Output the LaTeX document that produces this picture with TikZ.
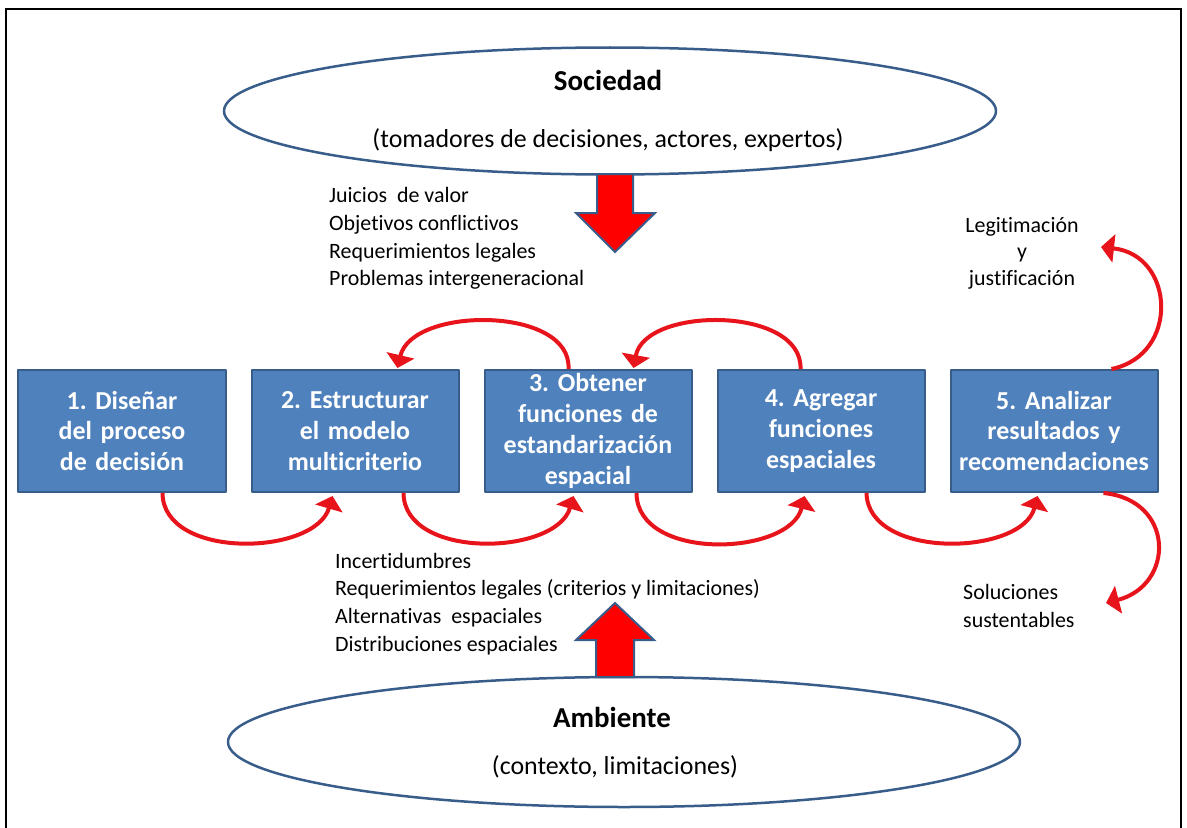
\documentclass[tikz,border=0pt]{standalone}
\usepackage{fontspec}
\setmainfont{Carlito}[RawFeature=-liga]
\frenchspacing
\usetikzlibrary{shapes.geometric,arrows.meta}
\definecolor{boxblue}{HTML}{4F81BD}
\definecolor{edgeblue}{HTML}{385D8A}
\definecolor{arcred}{HTML}{E8141C}
\tikzset{
  stepbox/.style={draw=edgeblue,line width=2bp,fill=boxblue,minimum width=207bp,minimum height=122bp,inner sep=0pt,text width=203bp,align=center,text=white,font=\fontsize{26}{31}\selectfont\bfseries},
  oval/.style={ellipse,draw=edgeblue,line width=2.5bp,inner sep=0pt},
  title/.style={font=\fontsize{29}{34}\selectfont\bfseries},
  subtitle/.style={font=\fontsize{26}{31}\selectfont},
  listline/.style={inner sep=0pt,font=\fontsize{22}{27}\selectfont,text height=15bp,text depth=5bp},
  flow/.style={arcred,line width=4bp,-{Triangle[width=28bp,length=13bp]}},
  blockarrow/.style={fill=red,draw=edgeblue,line width=2bp,line join=miter},
}
\begin{document}
\begin{tikzpicture}[x=1bp,y=-1bp,>=latex,line join=bevel]
\useasboundingbox (0,0) rectangle (1187,828);
\draw [black,line width=2bp,line join=miter] (6,832) -- (6,9) -- (1181,9) -- (1181,832);
%% ellipses
\node (soc) at (610,111) [oval,minimum width=772bp,minimum height=127bp] {};
\node (amb) at (624,742) [oval,minimum width=792bp,minimum height=130bp] {};
\node (soc_title) at (608,80) [title] {Sociedad};
\node (soc_text) at (608,140) [subtitle] {(tomadores de decisiones, actores, expertos)};
\node (amb_title) at (612,717) [title] {Ambiente};
\node (amb_text) at (615,767) [subtitle] {(contexto, limitaciones)};
%% block arrows
\draw [blockarrow] (597,174) -- (597,213) -- (576,213) -- (615,252) -- (655,213) -- (633,213) -- (633,174) -- cycle;
\draw [blockarrow] (596,677) -- (596,640) -- (576,640) -- (615,603) -- (654,640) -- (634,640) -- (634,677) -- cycle;
%% steps
\node (box_1) at (122,431) [stepbox] {1. Diseñar\\del proceso\\de decisión};
\node (box_2) at (355,431) [stepbox] {2. Estructurar\\el modelo\\multicriterio};
\node (box_3) at (588,431) [stepbox] {3. Obtener\\funciones de\\estandarización\\espacial};
\node (box_4) at (821,431) [stepbox] {4. Agregar\\funciones\\espaciales};
\node (box_5) at (1054,431) [stepbox] {5. Analizar\\resultados y\\recomendaciones};
%% side texts
\node (juicios) at (329,197) [listline,anchor=west] {Juicios\ \ de valor};
\node (objetivos) at (329,225) [listline,anchor=west] {Objetivos conflictivos};
\node (requer_1) at (329,253) [listline,anchor=west] {Requerimientos legales};
\node (problemas) at (329,280) [listline,anchor=west] {Problemas intergeneracional};
\node (incert) at (335,563) [listline,anchor=west] {Incertidumbres};
\node (requer_2) at (335,590) [listline,anchor=west] {Requerimientos legales (criterios y limitaciones)};
\node (altern) at (335,618) [listline,anchor=west] {Alternativas\ \ espaciales};
\node (distrib) at (335,646) [listline,anchor=west] {Distribuciones espaciales};
\node (legit_1) at (1022,227) [listline] {Legitimación};
\node (legit_2) at (1022,253) [listline] {y};
\node (legit_3) at (1022,280) [listline] {justificación};
\node (sol_1) at (963,594) [listline,anchor=west] {Soluciones};
\node (sol_2) at (963,622) [listline,anchor=west] {sustentables};
\coordinate (legit_tip) at (1101,247);
\coordinate (sol_tip) at (1106,603);
%% loops
\draw [flow] ([xshift=145bp]box_1.south west) ..controls (163,560) and (315,556) .. ([xshift=82bp,yshift=-3bp]box_2.south west);
\draw [flow] ([xshift=153bp]box_2.south west) ..controls (404,560) and (556,556) .. ([xshift=90bp,yshift=-3bp]box_3.south west);
\draw [flow] ([xshift=153bp]box_3.south west) ..controls (637,562) and (790,556) .. ([xshift=88bp,yshift=-3bp]box_4.south west);
\draw [flow] ([xshift=150bp]box_4.south west) ..controls (868,560) and (1022,556) .. ([xshift=88bp,yshift=-3bp]box_5.south west);
\draw [flow] ([xshift=85bp]box_3.north west) ..controls (572,306) and (412,306) .. ([xshift=147bp,yshift=1bp]box_2.north west);
\draw [flow] ([xshift=84bp]box_4.north west) ..controls (803,306) and (645,306) .. ([xshift=150bp,yshift=1bp]box_3.north west);
\draw [flow] ([xshift=162bp]box_5.north west) ..controls (1180,355) and (1175,255) .. (legit_tip);
\draw [flow] ([xshift=154bp]box_5.south west) ..controls (1175,500) and (1175,585) .. (sol_tip);
%
\end{tikzpicture}
\end{document}
